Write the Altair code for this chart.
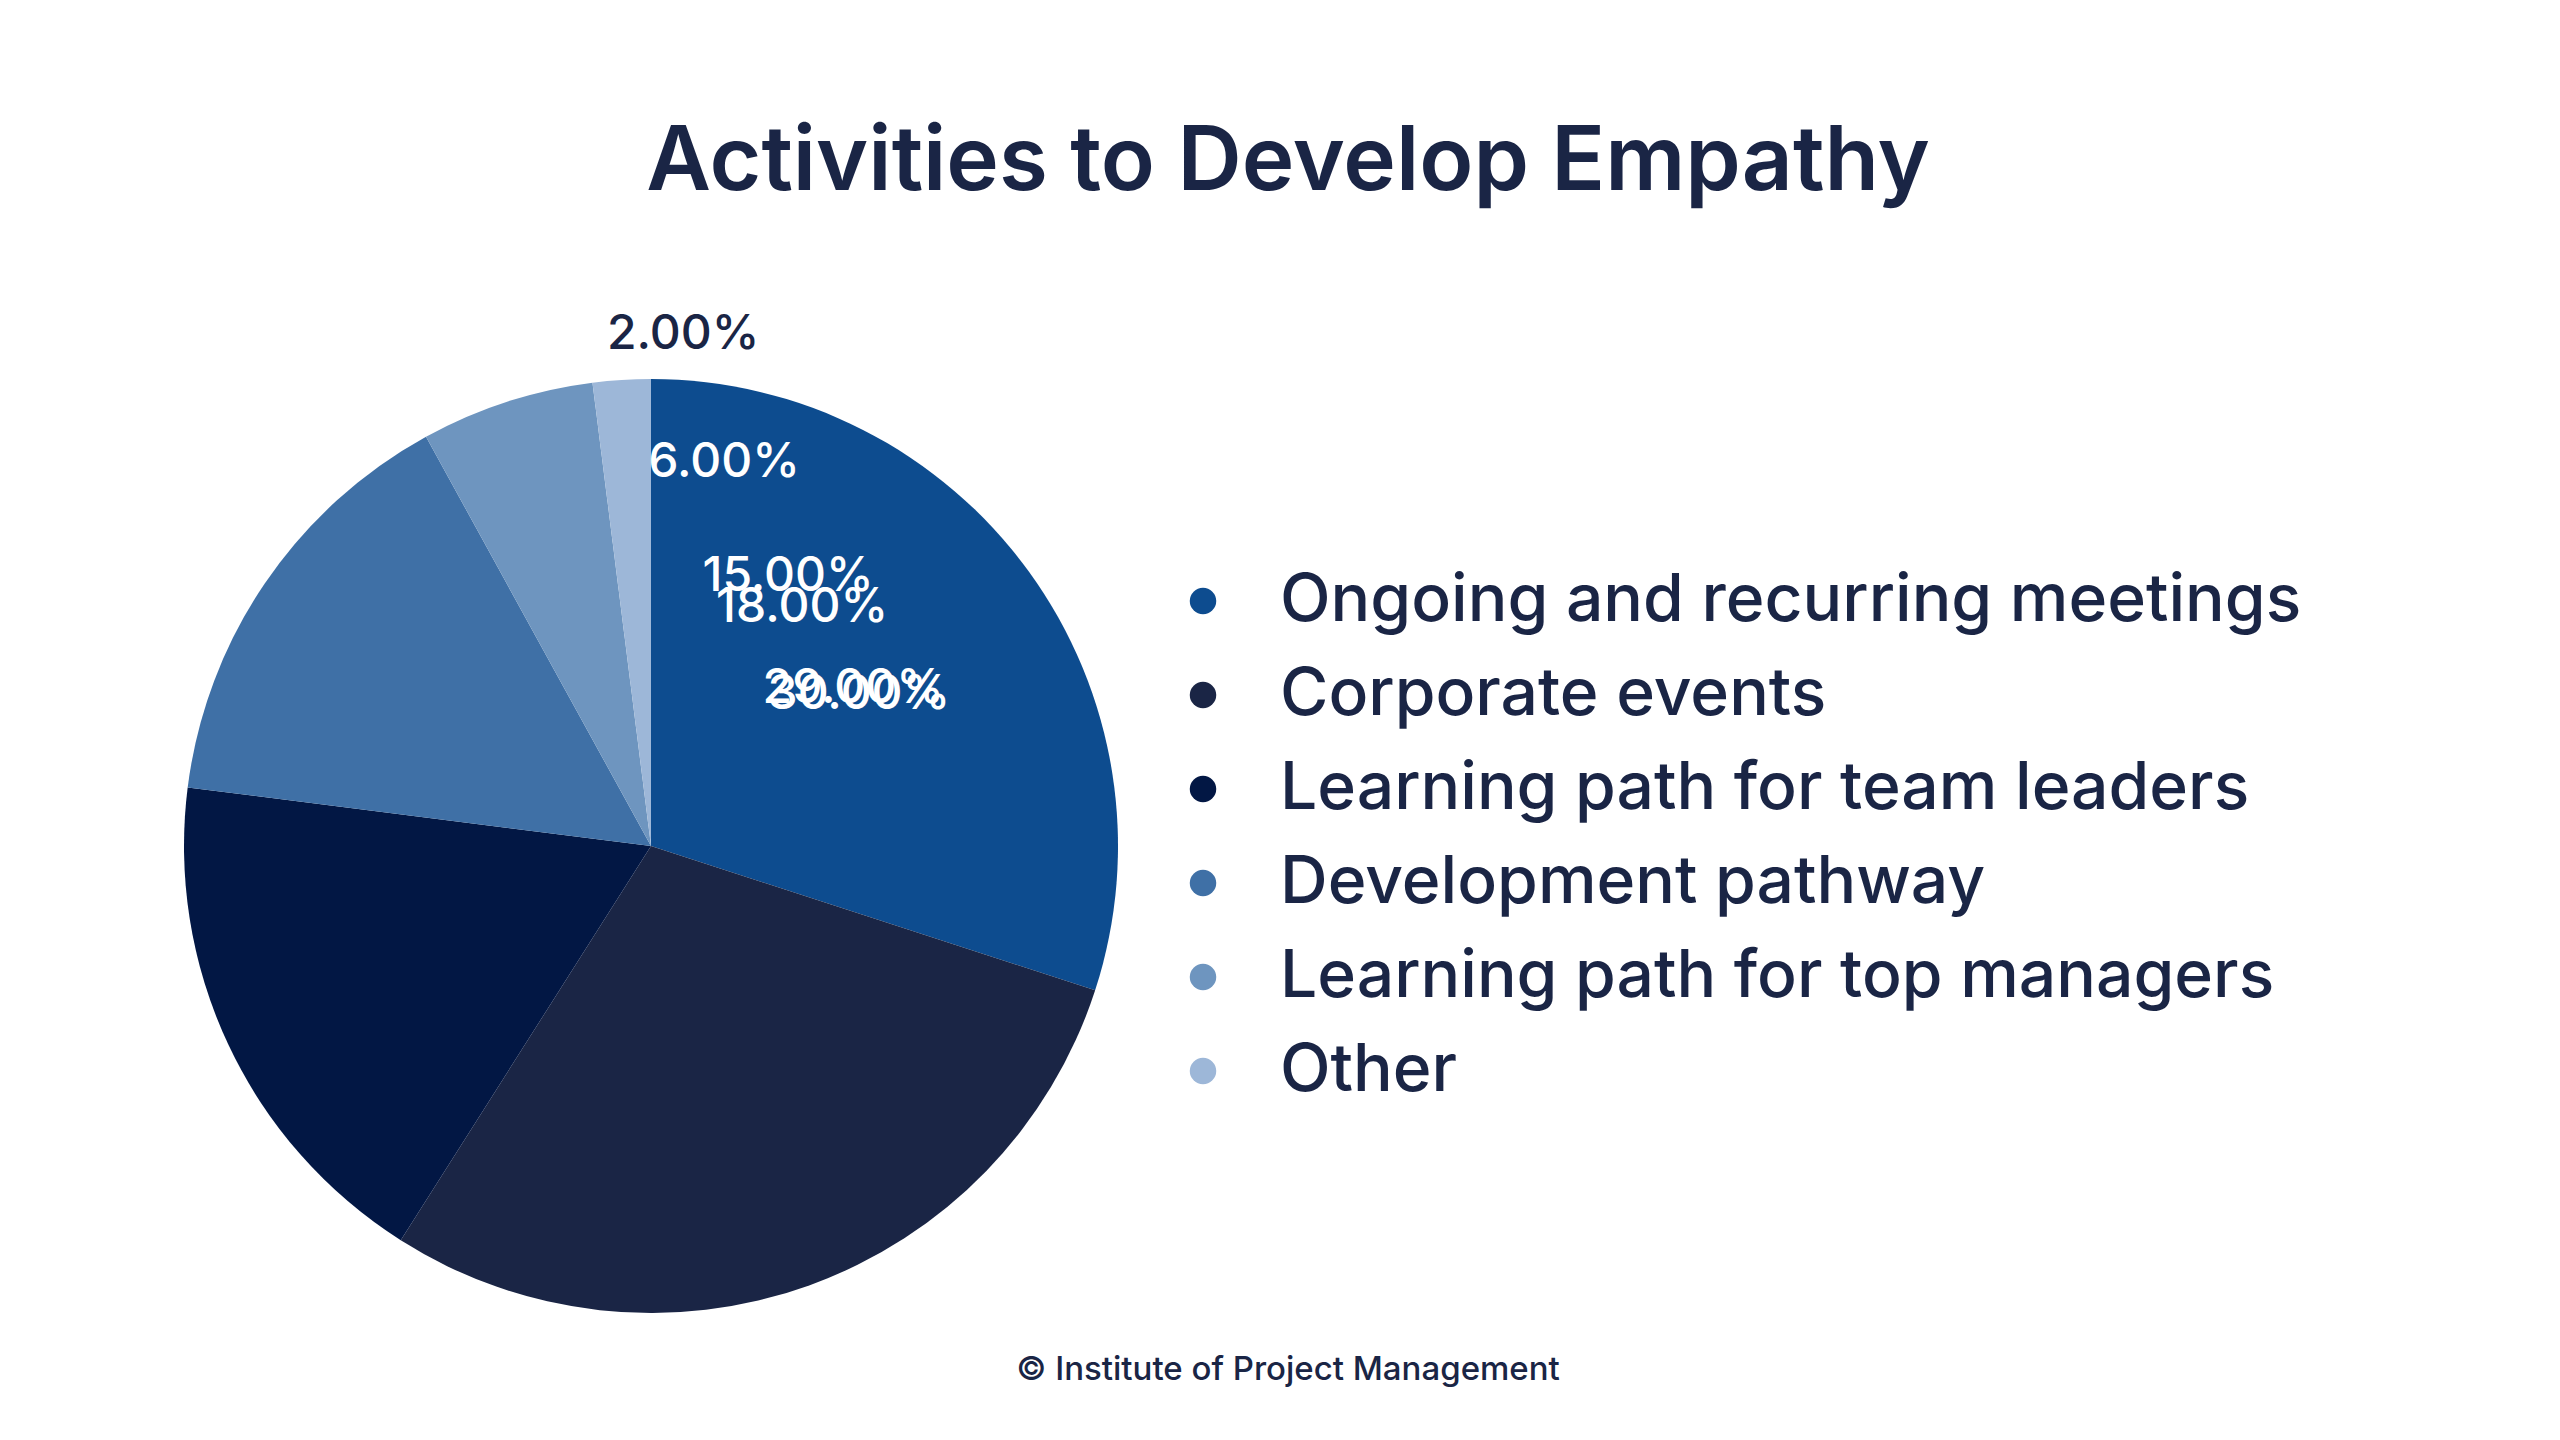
import altair as alt
import pandas as pd

categories = ["Ongoing and recurring meetings", "Corporate events", "Learning path for team leaders",
              "Development pathway", "Learning path for top managers", "Other"]
values = [30, 29, 18, 15, 6, 2]
labels = ["30.00%", "29.00%", "18.00%", "15.00%", "6.00%", "2.00%"]
colors = ["#0d4c8f", "#1a2545", "#021744", "#3f70a6", "#6e95bf", "#9db7d8"]
label_radius = [257, 256, 282, 302, 390, 512]

df = pd.DataFrame({"cat": categories, "val": values, "label": labels, "order": range(6),
                   "lr": label_radius})

W, H = 2544, 1424
CX, CY, R = 643, 838, 467
FONT = "Inter"

base = alt.Chart(df).encode(
    theta=alt.Theta("val:Q", stack=True),
    order=alt.Order("order:Q"),
)
pie = base.mark_arc(outerRadius=R).encode(
    x=alt.value(CX), y=alt.value(CY),
    color=alt.Color("cat:N", sort=categories,
                    scale=alt.Scale(domain=categories, range=colors),
                    legend=alt.Legend(title=None, orient="none", legendX=1162, legendY=560,
                                      labelFontSize=66, labelFont=FONT, labelColor="#1a2545",
                                      labelFontWeight=500, symbolType="circle", symbolSize=700,
                                      symbolStrokeWidth=0, rowPadding=28, labelOffset=44,
                                      labelLimit=1200)),
)
txt = base.mark_text(fontSize=48, font=FONT, fontWeight=500).encode(
    x=alt.value(CX), y=alt.value(CY),
    radius=alt.Radius("lr:Q", scale=None),
    text="label:N",
    color=alt.condition(alt.datum.label == "2.00%", alt.value("#1a2545"), alt.value("white")),
)
title = alt.Chart(pd.DataFrame({"t": ["Activities to Develop Empathy"]})).mark_text(
    fontSize=89, font=FONT, fontWeight=600, color="#1a2545"
).encode(x=alt.value(1280), y=alt.value(155), text="t:N")
footer = alt.Chart(pd.DataFrame({"t": ["© Institute of Project Management"]})).mark_text(
    fontSize=33, font=FONT, fontWeight=500, color="#1a2545"
).encode(x=alt.value(1280), y=alt.value(1362), text="t:N")

chart = alt.layer(pie, txt, title, footer).properties(
    width=W, height=H, padding=0, autosize=alt.AutoSizeParams(type="none")
).configure_view(stroke=None)

chart.save("out.html", embed_options={"renderer": "svg", "actions": False})
